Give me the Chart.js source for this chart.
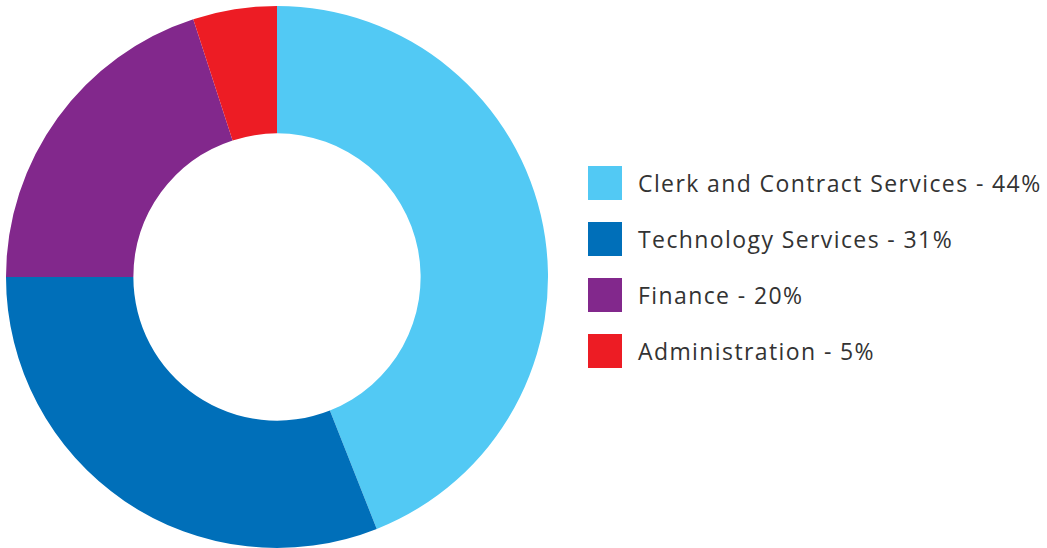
<!DOCTYPE html>
<html>
<head>
<meta charset="utf-8">
<script src="https://cdn.jsdelivr.net/npm/chart.js@4"></script>
<style>
    html, body {
        margin: 0;
        padding: 0;
        background: #fff;
        overflow: hidden;
    }
    #wrap {
        position: relative;
        width: 1047px;
        height: 548px;
    }
    #chart-box {
        position: absolute;
        left: 0;
        top: 0;
        width: 554px;
        height: 554px;
    }
    #legend {
        position: absolute;
        left: 588px;
        top: 166px;
        margin: 0;
        padding: 0;
        list-style: none;
        font-family: "Open Sans", sans-serif;
        font-size: 23px;
        letter-spacing: 1.4px;
        color: #333;
    }
    #legend li {
        display: flex;
        align-items: center;
        height: 34px;
        margin-bottom: 22px;
        white-space: nowrap;
    }
    #legend .swatch {
        width: 34px;
        height: 34px;
        margin-right: 16px;
        flex: none;
    }
</style>
</head>
<body>
<div id="wrap">
    <div id="chart-box"><canvas id="budget-chart"></canvas></div>
    <ul id="legend"></ul>
</div>
<script>
// Share of budget by department (percent)
const departments = ['Clerk and Contract Services', 'Technology Services', 'Finance', 'Administration'];
const shares = [44, 31, 20, 5];
const sliceColors = ['#52c9f4', '#006fb9', '#82288c', '#ed1c24'];

// Legend built from the same arrays
const legend = document.getElementById('legend');
departments.forEach((name, i) => {
    const item = document.createElement('li');
    item.innerHTML = `<span class="swatch" style="background:${sliceColors[i]}"></span>${name} - ${shares[i]}%`;
    legend.appendChild(item);
});

const ctx = document.getElementById('budget-chart').getContext('2d');
new Chart(ctx, {
    type: 'doughnut',
    data: {
        labels: departments,
        datasets: [{
            data: shares,
            backgroundColor: sliceColors,
            borderWidth: 0
        }]
    },
    options: {
        responsive: true,
        maintainAspectRatio: false,
        animation: false,
        cutout: '53%',
        layout: {
            padding: 6
        },
        plugins: {
            legend: { display: false },
            tooltip: { enabled: false }
        }
    }
});
</script>
</body>
</html>
